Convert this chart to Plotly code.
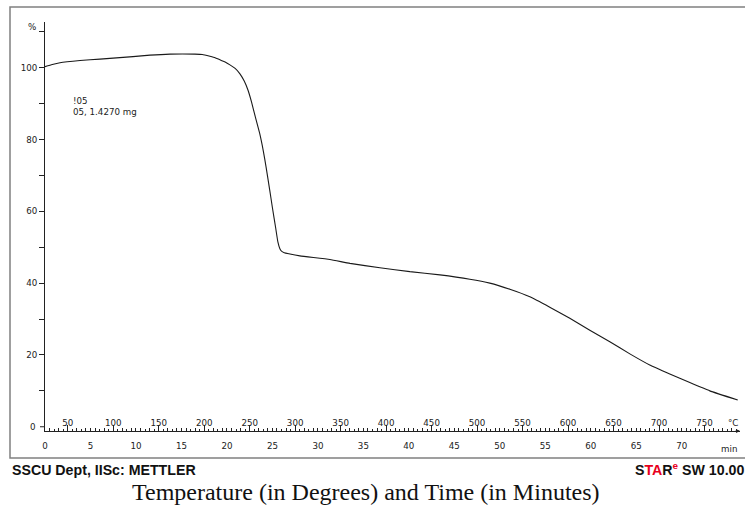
import plotly.graph_objects as go

# --- data (time in min, mass in %) ---
time_min = [0, 0.8, 1.65, 3.85, 6.04, 9.67, 11.54, 13.74, 16.48, 17.3, 18.13, 18.7,
            19.23, 19.8, 20.33, 20.9, 21.43, 21.9, 22.31, 22.7, 23.1, 23.6, 24.0,
            24.3, 24.7, 25.0, 25.35, 25.6, 25.82, 26.0, 26.3, 26.8,
            28.02, 31.32, 33.52, 36.81, 40.11, 43.41, 46.70, 48.90, 51.10,
            53.30, 55.49, 57.69, 59.89, 62.09, 64.29, 66.48, 68.68, 70.88,
            73.08, 76.15]
mass_pct = [100.3, 100.9, 101.4, 102.0, 102.4, 103.1, 103.5, 103.8, 103.8, 103.7,
            103.2, 102.8, 102.2, 101.6, 100.8, 99.8, 98.3, 96.3, 93.8, 90.5, 86.5,
            81.7, 76.8, 72.4, 66.0, 61.0, 55.5, 51.5, 49.6, 48.9, 48.5, 48.2,
            47.6, 46.6, 45.5, 44.3, 43.2, 42.3, 41.1, 40.0, 38.3, 36.2, 33.3,
            30.2, 26.9, 23.7, 20.3, 17.2, 14.7, 12.3, 10.0, 7.45]

time_ticks = list(range(0, 75, 5))
temp_ticks = list(range(50, 800, 50))
y_ticks = [0, 20, 40, 60, 80, 100]
start_temp = 25.0
heating_rate = 10.0  # °C/min

t_range = [0, 76.4]
temp_range = [start_temp + heating_rate * t_range[0], start_temp + heating_rate * t_range[1]]
y_range = [-1.18, 112.74]

W, H = 745, 506
L, R, T, B = 45, 5, 22, 75
pw, ph = W - L - R, H - T - B

def px(x):
    return (x - L) / pw

def py(y):
    return (H - B - y) / ph

font = "DejaVu Sans, Verdana, sans-serif"
fs = 8.7
tc = "#222"

fig = go.Figure()
fig.add_trace(go.Scatter(x=time_min, y=mass_pct, mode="lines",
                         line=dict(color="#1a1a1a", width=1.1, shape="spline", smoothing=0.4),
                         hoverinfo="skip", showlegend=False))
# invisible trace to activate temperature axis
fig.add_trace(go.Scatter(x=temp_range, y=[None, None], xaxis="x2", mode="lines",
                         showlegend=False, hoverinfo="skip"))

fig.update_layout(
    width=W, height=H,
    margin=dict(l=L, r=R, t=T, b=B),
    paper_bgcolor="white", plot_bgcolor="white",
    font=dict(family=font, size=fs, color=tc),
    xaxis=dict(range=t_range, tickvals=time_ticks, ticktext=[str(v) for v in time_ticks],
               showgrid=False, zeroline=False, showline=True, linecolor=tc, linewidth=1,
               ticks="inside", ticklen=3, tickcolor=tc, ticklabelstandoff=7,
               minor=dict(dtick=1, ticks="inside", ticklen=2, tickcolor=tc),
               tickfont=dict(family=font, size=fs, color=tc)),
    xaxis2=dict(range=temp_range, overlaying="x", side="bottom", anchor="y",
                tickvals=temp_ticks, ticktext=[str(v) for v in temp_ticks],
                ticks="inside", ticklen=6, tickcolor=tc, ticklabelposition="inside",
                ticklabelstandoff=-4,
                minor=dict(tickvals=list(range(30, 790, 10)), ticks="inside", ticklen=3, tickcolor=tc),
                showgrid=False, zeroline=False, showline=False,
                tickfont=dict(family=font, size=fs, color=tc)),
    yaxis=dict(range=y_range, tickvals=y_ticks, ticktext=[str(v) for v in y_ticks],
               showgrid=False, zeroline=False, showline=True, linecolor=tc, linewidth=1,
               ticks="outside", ticklen=5, tickcolor=tc,
               minor=dict(tickvals=[10, 30, 50, 70, 90, 110], ticks="outside", ticklen=5, tickcolor=tc),
               tickfont=dict(family=font, size=fs, color=tc)),
)

# outer gray frame
fig.add_shape(type="rect", xref="paper", yref="paper",
              x0=px(10), x1=px(748), y0=py(458), y1=py(7),
              line=dict(color="#808080", width=1.5), fillcolor="rgba(0,0,0,0)", layer="below")
# tick mark for y = 0 (hidden by plotly next to the inside x labels)
fig.add_shape(type="line", xref="paper", yref="y", x0=px(40), x1=px(45),
              y0=y_ticks[0], y1=y_ticks[0], line=dict(color=tc, width=1))

ann = []
# y tick label "0" (plotly hides it next to the inside x labels)
ann.append(dict(xref="paper", yref="y", x=px(38), y=y_ticks[0], text=str(y_ticks[0]), showarrow=False,
                xanchor="right", yanchor="middle", font=dict(family=font, size=fs, color=tc)))
ann.append(dict(xref="paper", yref="paper", x=px(38), y=py(27), text="%", showarrow=False,
                xanchor="right", yanchor="middle", font=dict(family=font, size=fs, color=tc)))
ann.append(dict(xref="x", yref="y", x=2.9, y=89.2, text="!05<br>05, 1.4270 mg", showarrow=False,
                xanchor="left", yanchor="middle", align="left",
                font=dict(family=font, size=fs, color=tc)))
ann.append(dict(xref="paper", yref="paper", x=px(740), y=py(423), text="°C", showarrow=False,
                xanchor="right", yanchor="middle", font=dict(family=font, size=fs, color=tc)))
ann.append(dict(xref="paper", yref="paper", x=px(739), y=py(449), text="min", showarrow=False,
                xanchor="right", yanchor="middle", font=dict(family=font, size=fs, color=tc)))
ann.append(dict(xref="paper", yref="paper", x=px(10), y=py(470), text="<b>SSCU Dept, IISc: METTLER</b>",
                showarrow=False, xanchor="left", yanchor="middle",
                font=dict(family="Liberation Sans, Arial, sans-serif", size=14.2, color="#111")))
ann.append(dict(xref="paper", yref="paper", x=px(633), y=py(469),
                text="<b>S<span style='color:#e8001c'>TA</span>R<sup><span style='color:#e8001c'>e</span></sup> SW 10.00</b>",
                showarrow=False, xanchor="left", yanchor="middle",
                font=dict(family="Liberation Sans, Arial, sans-serif", size=14.2, color="#111")))
ann.append(dict(xref="paper", yref="paper", x=px(366), y=py(492),
                text="Temperature (in Degrees) and Time (in Minutes)",
                showarrow=False, xanchor="center", yanchor="middle",
                font=dict(family="Liberation Serif, Times New Roman, serif", size=24, color="#111")))
# arrow head at right end of the x axis
ann.append(dict(xref="paper", yref="paper", x=px(740), y=py(431), ax=-6, ay=0,
                text="", showarrow=True, arrowhead=2, arrowsize=0.8, arrowwidth=1, arrowcolor=tc))
fig.update_layout(annotations=ann)

fig.write_html("out.html")
